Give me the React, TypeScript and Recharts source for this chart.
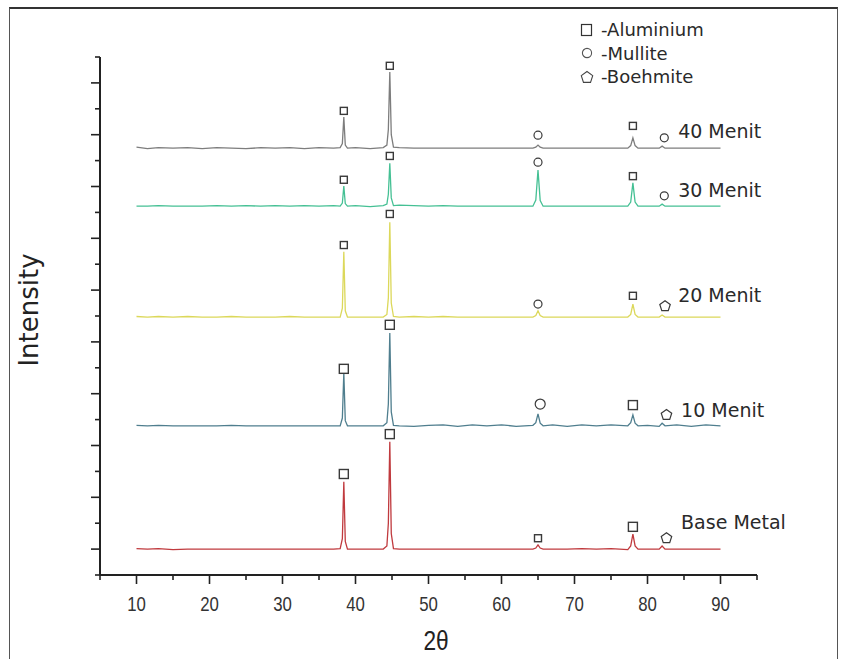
import { ComposedChart, Line, XAxis, YAxis, Scatter } from "recharts";

// 2θ positions shared by all five patterns
const twoTheta = [
  10, 11.5, 13, 15, 17, 19, 21, 23, 25, 27,
  29, 31, 33, 35, 37, 37.9, 38.2, 38.4, 38.6, 38.9,
  40, 42, 43.8, 44.3, 44.5, 44.7, 44.9, 45.2, 46, 48,
  50, 52, 54, 56, 58, 60, 62, 64.3, 64.7, 65,
  65.3, 65.7, 67, 69, 71, 73, 75, 77.3, 77.7, 78,
  78.3, 78.7, 80, 81.6, 82, 82.4, 84, 86, 88, 90,
];

// stacked intensities (already offset, as in the figure)
const menit40 = [
  82.6, 82.3, 82.5, 82.4, 82.5, 82.3, 82.5, 82.4, 82.3, 82.5,
  82.4, 82.5, 82.3, 82.5, 82.4, 82.5, 83.3, 88.4, 83.0, 82.4,
  82.5, 82.3, 82.5, 83.0, 86.0, 97.1, 85.0, 82.6, 82.5, 82.4,
  82.4, 82.4, 82.4, 82.4, 82.4, 82.4, 82.4, 82.4, 82.6, 83.0,
  82.6, 82.4, 82.4, 82.4, 82.4, 82.4, 82.4, 82.4, 82.9, 84.4,
  82.9, 82.4, 82.4, 82.4, 82.8, 82.4, 82.4, 82.4, 82.4, 82.4,
];
const menit30 = [
  71.2, 71.2, 71.3, 71.2, 71.2, 71.2, 71.3, 71.2, 71.3, 71.2,
  71.3, 71.2, 71.3, 71.2, 71.3, 71.2, 71.8, 75.1, 71.7, 71.2,
  71.3, 71.1, 71.3, 71.6, 73.5, 79.5, 72.8, 71.3, 71.4, 71.3,
  71.2, 71.3, 71.2, 71.2, 71.2, 71.2, 71.2, 71.2, 72.4, 78.2,
  72.3, 71.2, 71.2, 71.2, 71.2, 71.2, 71.2, 71.2, 72.0, 75.7,
  72.0, 71.2, 71.2, 71.2, 71.6, 71.2, 71.2, 71.2, 71.2, 71.2,
];
const menit20 = [
  49.9, 49.8, 49.9, 49.8, 49.9, 49.8, 49.8, 49.9, 49.8, 49.8,
  49.8, 49.9, 49.8, 49.8, 49.8, 49.8, 51.5, 62.4, 51.0, 49.8,
  49.8, 49.8, 49.8, 50.3, 53.5, 68.1, 52.5, 49.9, 49.8, 49.9,
  49.8, 49.9, 49.8, 49.8, 49.8, 49.8, 49.8, 49.8, 50.1, 51.0,
  50.1, 49.8, 49.8, 49.8, 49.8, 49.8, 49.8, 49.8, 50.3, 52.3,
  50.3, 49.8, 49.8, 49.8, 50.2, 49.8, 49.8, 49.8, 49.8, 49.8,
];
const menit10 = [
  28.9, 28.8, 28.9, 28.8, 28.8, 28.8, 28.8, 28.9, 28.8, 28.8,
  28.8, 28.8, 28.8, 28.8, 28.8, 28.8, 30.3, 39.0, 29.8, 28.8,
  28.8, 28.8, 28.8, 29.4, 33.0, 46.7, 31.5, 28.9, 28.8, 28.7,
  28.9, 29.0, 28.7, 29.0, 28.8, 29.0, 28.7, 28.9, 29.4, 31.1,
  29.3, 28.8, 29.0, 28.7, 29.0, 28.8, 29.0, 28.8, 29.4, 30.9,
  29.3, 28.8, 28.9, 28.7, 29.3, 28.8, 29.0, 28.7, 29.0, 28.8,
];
const baseMetal = [
  5.1, 5.0, 5.1, 4.9, 5.0, 5.0, 5.0, 5.0, 5.0, 5.0,
  5.0, 5.0, 5.0, 5.0, 5.0, 5.1, 7.0, 18.0, 6.5, 5.0,
  5.0, 5.0, 5.0, 5.6, 10.0, 25.7, 8.0, 5.1, 5.0, 5.0,
  5.0, 5.0, 5.0, 5.0, 5.0, 5.0, 5.0, 5.0, 5.2, 5.8,
  5.2, 5.0, 5.0, 5.0, 5.1, 5.0, 5.1, 4.9, 5.6, 7.9,
  5.6, 5.0, 5.0, 5.0, 5.6, 5.0, 5.0, 5.0, 5.0, 5.0,
];

// phase markers
const alSmallX = [38.4, 44.7, 78, 38.4, 44.7, 78, 38.4, 44.7, 78, 65];
const alSmallY = [89.6, 98.3, 86.7, 76.3, 80.9, 77.0, 63.7, 69.7, 53.9, 7.1];
const alLargeX = [38.4, 44.7, 78, 38.4, 44.7, 78];
const alLargeY = [39.8, 48.3, 32.8, 19.5, 27.2, 9.3];
const mulSmallX = [65, 82.3, 65, 82.3, 65];
const mulSmallY = [84.9, 84.4, 79.7, 73.2, 52.3];
const mulLargeX = [65.3];
const mulLargeY = [33.0];
const boeX = [82.4, 82.6, 82.6];
const boeY = [51.9, 30.9, 7.1];

// series labels
const seriesNames = ["40 Menit", "30 Menit", "20 Menit", "10 Menit", "Base Metal"];
const labelX = [84.2, 84.2, 84.2, 84.6, 84.6];
const labelY = [85.7, 74.3, 54.1, 31.9, 10.2];

const legendNames = ["-Aluminium", "-Mullite", "-Boehmite"];

const xTicks = [5, 10, 15, 20, 25, 30, 35, 40, 45, 50, 55, 60, 65, 70, 75, 80, 85, 90, 95];
const yTicks = [0, 5, 10, 15, 20, 25, 30, 35, 40, 45, 50, 55, 60, 65, 70, 75, 80, 85, 90, 95, 100];

const rows = twoTheta.map((x, i) => ({
  x,
  m40: menit40[i],
  m30: menit30[i],
  m20: menit20[i],
  m10: menit10[i],
  base: baseMetal[i],
}));

const pts = (xs: number[], ys: number[]) => xs.map((x, i) => ({ x, y: ys[i] }));
const labelPts = seriesNames.map((label, i) => ({ x: labelX[i], y: labelY[i], label }));

const MARK = "#3a3a3a";
const ARIAL = "'Liberation Sans', Arial, sans-serif";
const VERD = "'DejaVu Sans', Verdana, sans-serif";

function XTick({ x, y, payload }: any) {
  const major = payload.value % 10 === 0;
  return (
    <g>
      <line x1={x} x2={x} y1={y} y2={y + (major ? 9 : 5)} stroke="#222" strokeWidth={1.6} />
      {major && (
        <text transform={`translate(${x},${y + 29}) scale(0.84,1)`} textAnchor="middle" dominantBaseline="central"
          fill="#333" fontSize={20} fontFamily={ARIAL}>
          {payload.value}
        </text>
      )}
    </g>
  );
}

function YTick({ x, y, payload }: any) {
  const major = payload.value % 10 === 5;
  return <line x1={x} x2={x - (major ? 9 : 5)} y1={y} y2={y} stroke="#222" strokeWidth={1.6} />;
}

const square = (s: number) => (p: any) =>
  <rect x={p.cx - s / 2} y={p.cy - s / 2} width={s} height={s} fill="#fff" stroke={MARK} strokeWidth={1.4} />;
const circle = (r: number) => (p: any) =>
  <circle cx={p.cx} cy={p.cy} r={r} fill="#fff" stroke={MARK} strokeWidth={1.2} />;

function pentagonPath(cx: number, cy: number, r: number) {
  const p = [0, 1, 2, 3, 4].map(k => {
    const a = (-90 + k * 72) * Math.PI / 180;
    return `${cx + r * Math.cos(a)},${cy + r * Math.sin(a)}`;
  });
  return `M${p.join("L")}Z`;
}
const pentagon = (p: any) => <path d={pentagonPath(p.cx, p.cy, 5.5)} fill="#fff" stroke={MARK} strokeWidth={1.2} />;

const seriesLabel = (p: any) => (
  <text x={p.cx} y={p.cy} dominantBaseline="central" fill="#2a2a2a" fontSize={19} fontFamily={VERD}>
    {p.payload.label}
  </text>
);

function LegendSymbol({ i }: { i: number }) {
  return (
    <svg width={14} height={14} style={{ display: "block" }}>
      {i === 0 && <rect x={1.5} y={1.5} width={10} height={11} fill="#fff" stroke="#333" strokeWidth={1.2} />}
      {i === 1 && <circle cx={7} cy={7} r={4.6} fill="#fff" stroke="#555" strokeWidth={1.1} />}
      {i === 2 && <path d={pentagonPath(7, 7.5, 6)} fill="#fff" stroke="#444" strokeWidth={1.1} />}
    </svg>
  );
}

export default function App() {
  return (
    <div style={{ position: "absolute", left: 0, top: 0, width: 845, height: 659, background: "#fff", overflow: "hidden" }}>
      <div style={{ position: "absolute", left: 9, top: 7, width: 827, height: 660, borderTop: "2px solid #333", borderLeft: "1.5px solid #555", borderRight: "1.5px solid #555" }} />

      <div style={{ position: "absolute", left: 580, top: 18, fontFamily: VERD, fontSize: 18, color: "#2a2a2a" }}>
        {legendNames.map((n, i) => (
          <div key={n} style={{ display: "flex", alignItems: "center", height: 23.5 }}>
            <LegendSymbol i={i} />
            <span style={{ marginLeft: 7 }}>{n}</span>
          </div>
        ))}
      </div>

      <div style={{ position: "absolute", left: 29, top: 310, transform: "translate(-50%, -50%) rotate(-90deg)", whiteSpace: "nowrap", fontFamily: VERD, fontSize: 26, color: "#222" }}>
        Intensity
      </div>
      <div style={{ position: "absolute", left: 436, top: 641, transform: "translate(-50%, -50%) scaleX(0.84)", whiteSpace: "nowrap", fontFamily: ARIAL, fontSize: 27, color: "#222" }}>
        2θ
      </div>

      <ComposedChart width={845} height={659} data={rows} margin={{ top: 57, right: 88, bottom: 24, left: 40 }} style={{ position: "absolute", left: 0, top: 0 }}>
        <XAxis dataKey="x" type="number" domain={[5, 95]} ticks={xTicks} interval={0} tickSize={0} tickMargin={0}
          tickLine={false} axisLine={{ stroke: "#222", strokeWidth: 2 }} height={60} tick={<XTick />} />
        <YAxis type="number" domain={[0, 100]} ticks={yTicks} interval={0} tickSize={0} tickMargin={0}
          tickLine={false} axisLine={{ stroke: "#222", strokeWidth: 2 }} width={60} tick={<YTick />} />

        <Line type="linear" dataKey="m40" stroke="#7d7d7d" strokeWidth={1.3} dot={false} isAnimationActive={false} />
        <Line type="linear" dataKey="m30" stroke="#45c094" strokeWidth={1.3} dot={false} isAnimationActive={false} />
        <Line type="linear" dataKey="m20" stroke="#dcd85a" strokeWidth={1.3} dot={false} isAnimationActive={false} />
        <Line type="linear" dataKey="m10" stroke="#4f7e8e" strokeWidth={1.3} dot={false} isAnimationActive={false} />
        <Line type="linear" dataKey="base" stroke="#c03a3e" strokeWidth={1.3} dot={false} isAnimationActive={false} />

        <Scatter data={pts(alSmallX, alSmallY)} dataKey="y" shape={square(7)} isAnimationActive={false} />
        <Scatter data={pts(alLargeX, alLargeY)} dataKey="y" shape={square(9)} isAnimationActive={false} />
        <Scatter data={pts(mulSmallX, mulSmallY)} dataKey="y" shape={circle(4)} isAnimationActive={false} />
        <Scatter data={pts(mulLargeX, mulLargeY)} dataKey="y" shape={circle(5)} isAnimationActive={false} />
        <Scatter data={pts(boeX, boeY)} dataKey="y" shape={pentagon} isAnimationActive={false} />
        <Scatter data={labelPts} dataKey="y" shape={seriesLabel} isAnimationActive={false} />
      </ComposedChart>
    </div>
  );
}
